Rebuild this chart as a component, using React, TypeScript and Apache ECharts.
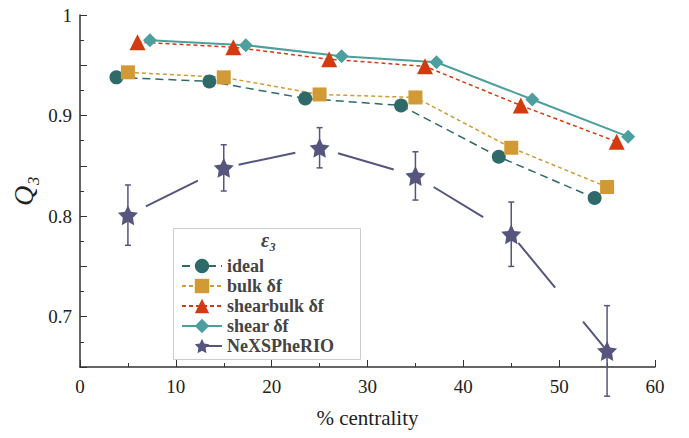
import { useEffect, useRef } from 'react';
import * as echarts from 'echarts';

const idealX = [3.8, 13.5, 23.5, 33.5, 43.7, 53.7];
const idealY = [0.938, 0.934, 0.917, 0.91, 0.859, 0.818];
const bulkX = [5, 15, 25, 35, 45, 55];
const bulkY = [0.943, 0.938, 0.921, 0.918, 0.868, 0.829];
const shearbulkX = [6, 16, 26, 36, 46, 56];
const shearbulkY = [0.973, 0.968, 0.956, 0.949, 0.91, 0.874];
const shearX = [7.3, 17.3, 27.3, 37.2, 47.2, 57.2];
const shearY = [0.975, 0.97, 0.959, 0.953, 0.916, 0.879];
const nexX = [5, 15, 25, 35, 45, 55];
const nexY = [0.801, 0.848, 0.868, 0.84, 0.782, 0.666];
const nexErr = [0.03, 0.023, 0.02, 0.024, 0.032, 0.045];

const font = '"Times New Roman", "Liberation Serif", serif';
const zip = (xs: number[], ys: number[]) => xs.map((x, i) => [x, ys[i]]);

export default function App() {
  const ref = useRef<HTMLDivElement>(null);

  useEffect(() => {
    if (!ref.current) return;
    const chart = echarts.init(ref.current, undefined, { renderer: 'svg' });
    const axisLine = { show: true, lineStyle: { color: '#333', width: 1.5 } };
    const option: any = {
      animation: false,
      textStyle: { fontFamily: font },
      grid: { left: 72, right: 34, top: 7, bottom: 71, outerBoundsMode: 'none', containLabel: false },
      xAxis: {
        type: 'value', min: 0, max: 60, interval: 10,
        name: '% centrality', nameLocation: 'middle', nameGap: 40,
        nameTextStyle: { fontFamily: font, fontSize: 21, color: '#222' },
        axisLine, axisTick: { inside: true, length: 7, lineStyle: { color: '#333' } },
        minorTick: { show: true, splitNumber: 2, length: 4, lineStyle: { color: '#333' } },
        axisLabel: { fontFamily: font, fontSize: 19, color: '#222', margin: 10 },
        splitLine: { show: false },
      },
      yAxis: {
        type: 'value', min: 0.65, max: 1,
        name: 'Q₃', nameLocation: 'middle', nameGap: 42,
        nameTextStyle: { fontFamily: font, fontSize: 28, fontStyle: 'italic', color: '#222' },
        axisLine, axisTick: { inside: true, length: 7, lineStyle: { color: '#333' } },
        minorTick: { show: true, splitNumber: 2, length: 4, lineStyle: { color: '#333' } },
        axisLabel: {
          fontFamily: font, fontSize: 19, color: '#222',
          formatter: (v: number) => (Math.abs(v * 10 - Math.round(v * 10)) < 1e-6 ? (v === 1 ? '1' : v.toFixed(1)) : ''),
        },
        splitLine: { show: false },
      },
      legend: {
        orient: 'vertical', left: 168, top: 244, itemGap: 2, itemWidth: 40, itemHeight: 18,
        textStyle: { fontFamily: font, fontSize: 18, fontWeight: 'bold', color: '#444' },
        data: ['ideal', 'bulk δf', 'shearbulk δf', 'shear δf', 'NeXSPheRIO'],
      },
      graphic: [
        { type: 'rect', left: 165, top: 220, shape: { width: 187, height: 131 }, style: { fill: '#fff', stroke: '#ccc' }, z: 0 },
        { type: 'text', left: 253, top: 222, style: { text: 'ε₃', font: `italic bold 20px ${font}`, fill: '#444' }, z: 1 },
      ],
      series: [
        {
          name: 'ideal', type: 'line', data: zip(idealX, idealY), symbol: 'circle', symbolSize: 14,
          itemStyle: { color: '#2f6a6a' }, lineStyle: { color: '#2f6a6a', type: [8, 5], width: 1.5 },
        },
        {
          name: 'bulk δf', type: 'line', data: zip(bulkX, bulkY), symbol: 'rect', symbolSize: 14,
          itemStyle: { color: '#d19a35' }, lineStyle: { color: '#d19a35', type: [4, 3], width: 1.5 },
        },
        {
          name: 'shearbulk δf', type: 'line', data: zip(shearbulkX, shearbulkY), symbol: 'triangle', symbolSize: 16,
          itemStyle: { color: '#d43a10' }, lineStyle: { color: '#d43a10', type: [4, 3], width: 1.5 },
        },
        {
          name: 'shear δf', type: 'line', data: zip(shearX, shearY), symbol: 'diamond', symbolSize: 14,
          itemStyle: { color: '#4d9e9e' }, lineStyle: { color: '#4d9e9e', width: 2 },
        },
        {
          name: 'NeXSPheRIO', type: 'line', data: zip(nexX, nexY),
          symbol: 'path://M0,-10 L2.9,-4 L9.5,-3.1 L4.8,1.5 L5.9,8.1 L0,5 L-5.9,8.1 L-4.8,1.5 L-9.5,-3.1 L-2.9,-4 Z',
          symbolSize: 20, itemStyle: { color: '#55557e' },
          lineStyle: { color: '#55557e', width: 2, type: [58, 44], dashOffset: -20 },
          z: 3,
        },
        {
          type: 'custom', name: 'err', silent: true, z: 2,
          renderItem: (_p: any, api: any) => {
            const x = api.value(0), y = api.value(1), e = api.value(2);
            const top = api.coord([x, y + e]);
            const bot = api.coord([x, y - e]);
            const st = { stroke: '#55557e', lineWidth: 1.5 };
            return {
              type: 'group',
              children: [
                { type: 'line', shape: { x1: top[0], y1: top[1], x2: bot[0], y2: bot[1] }, style: st },
                { type: 'line', shape: { x1: top[0] - 3, y1: top[1], x2: top[0] + 3, y2: top[1] }, style: st },
                { type: 'line', shape: { x1: bot[0] - 3, y1: bot[1], x2: bot[0] + 3, y2: bot[1] }, style: st },
              ],
            };
          },
          data: nexX.map((x, i) => [x, nexY[i], nexErr[i]]),
        },
      ],
    };
    chart.setOption(option);
    return () => chart.dispose();
  }, []);

  return <div ref={ref} style={{ width: 681, height: 430 }} />;
}
